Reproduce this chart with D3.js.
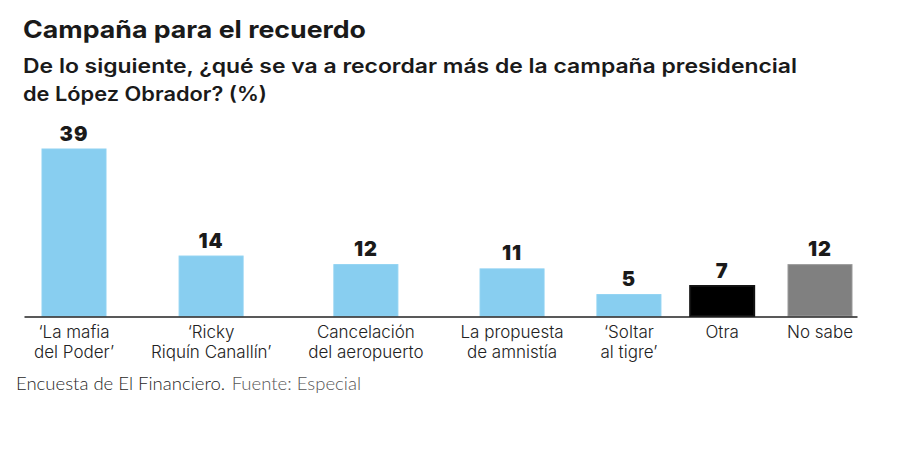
<!DOCTYPE html>
<html>
<head>
<meta charset="utf-8">
<script src="https://cdn.jsdelivr.net/npm/d3@7"></script>
<style>
  html, body { margin: 0; padding: 0; background: #fff; }
  svg { display: block; }
</style>
</head>
<body>
<svg id="chart" width="900" height="474"></svg>
<script>
// ---- data ----
const categories = [
  ["‘La mafia", "del Poder’"],
  ["‘Ricky", "Riquín Canallín’"],
  ["Cancelación", "del aeropuerto"],
  ["La propuesta", "de amnistía"],
  ["‘Soltar", "al tigre’"],
  ["Otra"],
  ["No sabe"]
];
const values = [39, 14, 12, 11, 5, 7, 12];
const barKinds = ["option", "option", "option", "option", "option", "other", "unknown"];
const title = "Campaña para el recuerdo";
const subtitle = ["De lo siguiente, ¿qué se va a recordar más de la campaña presidencial", "de López Obrador? (%)"];
const sourceA = "Encuesta de El Financiero.";
const sourceB = "Fuente: Especial";

// ---- styles ----
const fill = { option: "#88CEF0", other: "#000000", unknown: "#808080" };
const stroke = { option: "#8fd2f2", other: "#111111", unknown: "#9a9a9a" };

const svg = d3.select("#chart");
const W = 900;
const margin = { left: 24, right: 43 };
const baseY = 316;
const barW = 64;
const firstCenter = 74, lastCenter = 820;

svg.append("text").attr("x", 23).attr("y", 38)
  .attr("font-family", "Inter, 'Noto Sans', sans-serif").attr("font-weight", 700)
  .attr("font-size", 24).attr("fill", "#1a1a1a")
  .attr("textLength", 343).attr("lengthAdjust", "spacingAndGlyphs").text(title);

const subLen = [774, 244];
svg.selectAll("text.sub").data(subtitle).join("text").attr("class", "sub")
  .attr("x", 23).attr("y", (d, i) => 73 + i * 27.5)
  .attr("font-family", "Inter, 'Noto Sans', sans-serif").attr("font-weight", 600)
  .attr("font-size", 19.5).attr("fill", "#1a1a1a")
  .attr("textLength", (d, i) => subLen[i]).attr("lengthAdjust", "spacingAndGlyphs")
  .text(d => d);

// category labels: measure to lay out slots
const labelG = svg.append("g");
const labels = labelG.selectAll("text.cat").data(categories).join("text").attr("class", "cat")
  .attr("font-family", "Inter, Roboto, sans-serif").attr("font-weight", 300)
  .attr("font-size", 17).attr("fill", "#222").attr("text-anchor", "middle");
labels.selectAll("tspan").data(d => d).join("tspan")
  .attr("x", 0).attr("dy", (d, i) => i === 0 ? 0 : 19.5).text(d => d);

const slotW = [];
labels.each(function(d) {
  let m = 0;
  d3.select(this).selectAll("tspan").each(function() { m = Math.max(m, this.getComputedTextLength()); });
  slotW.push(Math.max(m + 4, barW - 4));
});
let sumHalf = 0;
for (let i = 0; i < slotW.length - 1; i++) sumHalf += (slotW[i] + slotW[i + 1]) / 2;
const gap = (lastCenter - firstCenter - sumHalf) / (slotW.length - 1);
const centers = [firstCenter];
for (let i = 1; i < slotW.length; i++) centers.push(centers[i - 1] + (slotW[i - 1] + slotW[i]) / 2 + gap);

const keys = categories.map(d => d.join(" "));
const x = d3.scaleOrdinal().domain(keys).range(centers);
const y = d3.scaleLinear().domain([0, 39]).range([baseY, 149]);

labels.attr("transform", (d, i) => `translate(${x(keys[i])},338)`);

// bars
svg.append("g").selectAll("rect").data(values).join("rect")
  .attr("x", (d, i) => x(keys[i]) - barW / 2)
  .attr("y", d => y(d))
  .attr("width", barW)
  .attr("height", d => baseY - y(d))
  .attr("fill", (d, i) => fill[barKinds[i]])
  .attr("stroke", (d, i) => stroke[barKinds[i]])
  .attr("stroke-width", (d, i) => barKinds[i] === "other" ? 2 : 1);

// value labels
svg.append("g").selectAll("text").data(values).join("text")
  .attr("x", (d, i) => x(keys[i]))
  .attr("y", d => y(d) - 8.5)
  .attr("text-anchor", "middle")
  .attr("font-family", "Inter, 'Noto Sans', sans-serif").attr("font-weight", 900)
  .attr("font-size", 20).attr("letter-spacing", 1).attr("fill", "#1a1a1a").text(d => d);

// baseline axis
const axisX = d3.scaleLinear().range([margin.left, W - margin.right]);
const axis = d3.axisBottom(axisX).ticks(0).tickSize(0).tickFormat("");
svg.append("g").attr("transform", `translate(0,${baseY + 0.5})`).call(axis)
  .call(g => g.select(".domain").attr("stroke", "#222").attr("stroke-width", 1.5));

// source
const src = svg.append("text").attr("x", 16).attr("y", 390)
  .attr("font-family", "Lato, 'Open Sans', sans-serif").attr("font-weight", 300)
  .attr("font-size", 17)
  .attr("textLength", 345).attr("lengthAdjust", "spacingAndGlyphs");
src.append("tspan").attr("fill", "#1f1f1f").text(sourceA);
src.append("tspan").attr("fill", "#555").attr("dx", 6).text(sourceB);
</script>
</body>
</html>
